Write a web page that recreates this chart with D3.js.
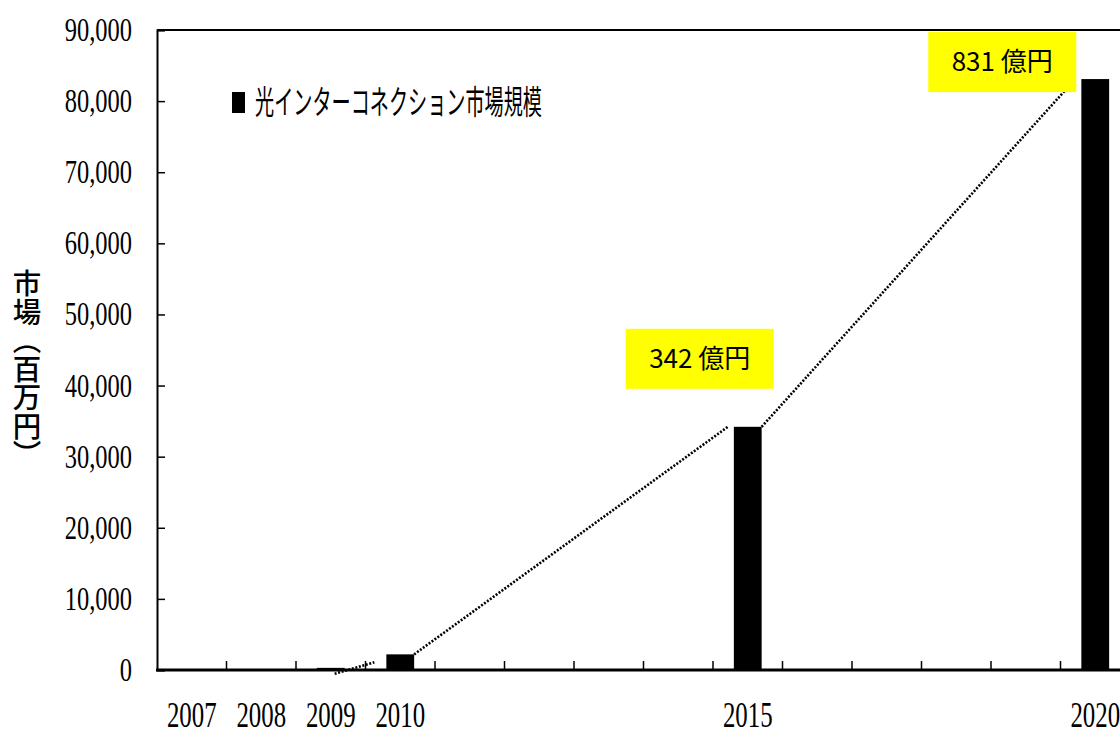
<!DOCTYPE html>
<html lang="ja">
<head>
<meta charset="utf-8">
<script src="https://cdn.jsdelivr.net/npm/d3@7"></script>
<style>
  html, body { margin: 0; padding: 0; background: #fff; }
  svg { display: block; }
</style>
</head>
<body>
<svg id="chart" width="1120" height="749"></svg>
<script>
// Optical interconnect market size (million yen)
const years = [2007, 2008, 2009, 2010, 2011, 2012, 2013, 2014, 2015, 2016, 2017, 2018, 2019, 2020];
const marketValues = [0, 0, 300, 2200, null, null, null, null, 34200, null, null, null, null, 83100];
const labelledYears = [2007, 2008, 2009, 2010, 2015, 2020];
const yTicks = [0, 10000, 20000, 30000, 40000, 50000, 60000, 70000, 80000, 90000];
const calloutYears = [2015, 2020];
const seriesName = "光インターコネクション市場規模";
const yTitle = "市場（百万円）";

const W = 1120, H = 749;
const margin = { left: 157, top: 30, right: -10, bottom: 79 };
const svg = d3.select("#chart");

const x = d3.scaleBand()
  .domain(years)
  .range([margin.left, W - margin.right])
  .paddingInner(0.6)
  .paddingOuter(0.3);
const step = x.step();

const y = d3.scaleLinear()
  .domain([0, 90000])
  .range([H - margin.bottom, margin.top]);

const serif = "'Liberation Serif', 'DejaVu Serif', serif";
const jp = "'Noto Sans CJK JP', 'Noto Sans', sans-serif";

// squeeze text horizontally, like a condensed face
function condense(sel, factor) {
  sel.each(function () {
    const len = this.getComputedTextLength();
    d3.select(this).attr("textLength", len * factor).attr("lengthAdjust", "spacingAndGlyphs");
  });
}

// frame: top border
svg.append("line")
  .attr("x1", margin.left).attr("x2", W)
  .attr("y1", y(90000)).attr("y2", y(90000))
  .attr("stroke", "#000").attr("stroke-width", 2);

// Y axis: ticks pointing inward
const yAxis = svg.append("g")
  .attr("transform", `translate(${margin.left},0)`)
  .call(d3.axisRight(y).tickValues(yTicks).tickSize(8).tickFormat(""));
yAxis.select(".domain").attr("stroke-width", 2);
yAxis.selectAll(".tick line").attr("stroke-width", 1.5);

svg.append("g").selectAll("text")
  .data(yTicks)
  .join("text")
  .attr("x", 132)
  .attr("y", d => y(d) + 11)
  .attr("text-anchor", "end")
  .attr("font-family", serif)
  .attr("font-size", 34)
  .attr("fill", "#000")
  .text(d => d3.format(",")(d))
  .call(condense, 0.72);

// bars
const barData = years.map((yr, i) => ({ year: yr, value: marketValues[i] }))
  .filter(d => d.value !== null);

svg.append("g").selectAll("rect")
  .data(barData.filter(d => d.value > 0))
  .join("rect")
  .attr("x", d => x(d.year))
  .attr("width", x.bandwidth())
  .attr("y", d => y(d.value))
  .attr("height", d => y(0) - y(d.value))
  .attr("fill", "#000");

// X axis: baseline with ticks at the cell boundaries, pointing up
const baseY = y(0);
svg.append("line")
  .attr("x1", margin.left - 1).attr("x2", W)
  .attr("y1", baseY).attr("y2", baseY)
  .attr("stroke", "#000").attr("stroke-width", 3);

svg.append("g").selectAll("line")
  .data(years.slice(1))
  .join("line")
  .attr("x1", d => x(d) - step * 0.3)
  .attr("x2", d => x(d) - step * 0.3)
  .attr("y1", baseY).attr("y2", baseY - 9)
  .attr("stroke", "#000").attr("stroke-width", 1.5);

svg.append("g").selectAll("text")
  .data(labelledYears)
  .join("text")
  .attr("x", d => x(d) + x.bandwidth() / 2)
  .attr("y", 727)
  .attr("text-anchor", "middle")
  .attr("font-family", serif)
  .attr("font-size", 35)
  .attr("fill", "#000")
  .text(d => d)
  .call(condense, 0.71);

// dotted trend line joining the tops of consecutive bars
const segs = d3.pairs(barData.filter(d => d.value > 0));
const line = d3.line();
svg.append("g").selectAll("path")
  .data(segs)
  .join("path")
  .attr("d", ([a, b]) => line([
    [x(a.year) + x.bandwidth() - (a.value < 1000 ? 10 : 0), y(a.value) + (a.value < 1000 ? 6 : 0)],
    [x(b.year) - (b.value > 10000 ? 6 : 12), y(b.value) + (b.value < 10000 ? 8 : 0)]
  ]))
  .attr("fill", "none")
  .attr("stroke", "#000")
  .attr("stroke-width", 2.6)
  .attr("stroke-dasharray", "2,1.6");

// yellow value callouts (億円 = value / 100 million yen)
const callouts = barData.filter(d => calloutYears.includes(d.year));
const boxW = 148, boxH = 60;
const calloutPos = { 2015: { dx: -48, dy: -98 }, 2020: { dx: -93, dy: -47 } };
const cg = svg.append("g").selectAll("g")
  .data(callouts)
  .join("g")
  .attr("transform", d => {
    const cx = x(d.year) + x.bandwidth() / 2 + calloutPos[d.year].dx;
    const cy = y(d.value) + calloutPos[d.year].dy;
    return `translate(${cx},${cy})`;
  });
cg.append("rect")
  .attr("x", -boxW / 2).attr("y", 0)
  .attr("width", boxW).attr("height", boxH)
  .attr("fill", "#ffff00");
cg.append("text")
  .attr("x", 0).attr("y", 39)
  .attr("text-anchor", "middle")
  .attr("font-family", jp)
  .attr("font-size", 26)
  .attr("fill", "#000")
  .text(d => `${Math.round(d.value / 100)} 億円`);

// legend
const legend = svg.append("g").attr("transform", "translate(232,92)");
legend.append("rect").attr("width", 13).attr("height", 21).attr("fill", "#000");
legend.append("text")
  .attr("x", 23).attr("y", 22)
  .attr("font-family", jp)
  .attr("font-size", 33)
  .attr("fill", "#000")
  .text(seriesName)
  .attr("textLength", 287)
  .attr("lengthAdjust", "spacingAndGlyphs");

// vertical Y axis title
svg.append("text")
  .attr("x", 27).attr("y", 269)
  .attr("font-family", jp)
  .attr("font-size", 28.5)
  .attr("font-weight", 500)
  .attr("fill", "#000")
  .style("writing-mode", "vertical-rl")
  .text(yTitle);
</script>
</body>
</html>
